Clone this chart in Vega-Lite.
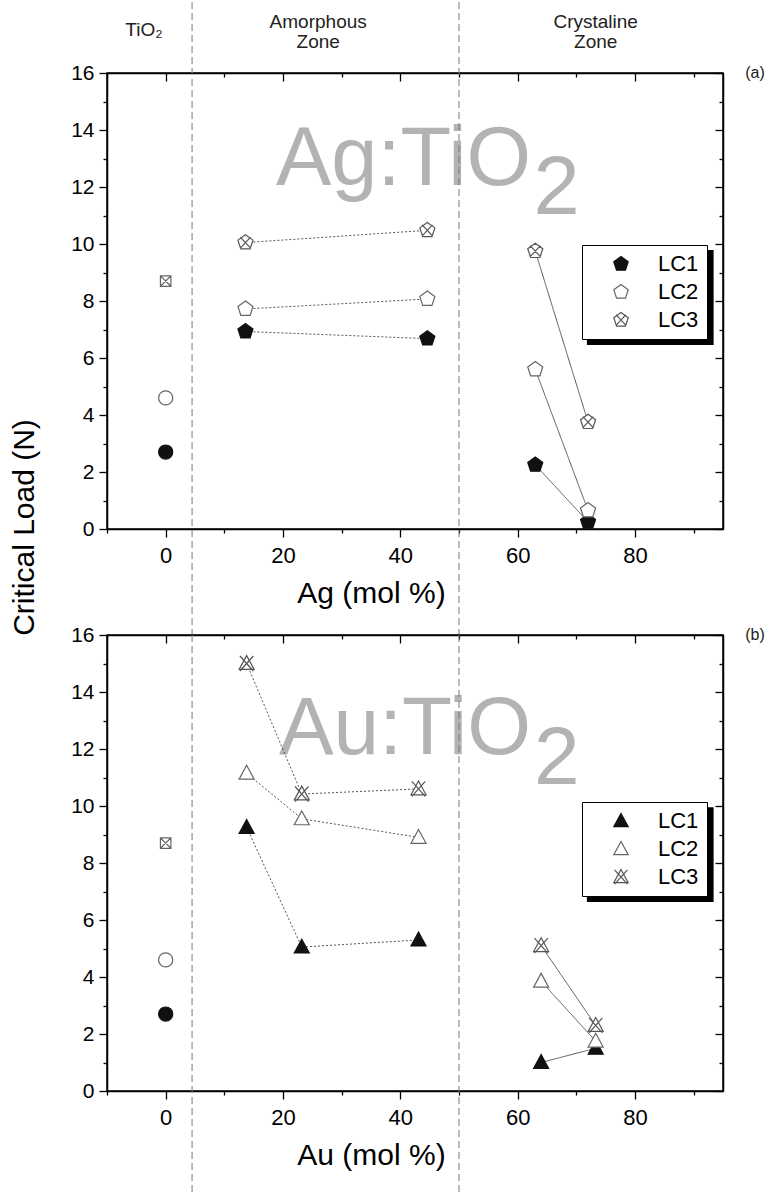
{
  "$schema": "https://vega.github.io/schema/vega-lite/v6.json",
  "background": "white",
  "padding": {"left": 8, "top": 0, "right": 0, "bottom": 0},
  "datasets": {
    "pts": [
      {"panel": "a", "x": 0, "lc": "LC1", "v": 2.7, "zone": "TiO2"},
      {"panel": "a", "x": 0, "lc": "LC2", "v": 4.6, "zone": "TiO2"},
      {"panel": "a", "x": 0, "lc": "LC3", "v": 8.7, "zone": "TiO2"},
      {"panel": "a", "x": 13.6, "lc": "LC1", "v": 6.93, "zone": "Amorphous"},
      {"panel": "a", "x": 13.6, "lc": "LC2", "v": 7.72, "zone": "Amorphous"},
      {"panel": "a", "x": 13.6, "lc": "LC3", "v": 10.05, "zone": "Amorphous"},
      {"panel": "a", "x": 44.6, "lc": "LC1", "v": 6.68, "zone": "Amorphous"},
      {"panel": "a", "x": 44.6, "lc": "LC2", "v": 8.07, "zone": "Amorphous"},
      {"panel": "a", "x": 44.6, "lc": "LC3", "v": 10.48, "zone": "Amorphous"},
      {"panel": "a", "x": 63, "lc": "LC1", "v": 2.25, "zone": "Crystaline"},
      {"panel": "a", "x": 63, "lc": "LC2", "v": 5.6, "zone": "Crystaline"},
      {"panel": "a", "x": 63, "lc": "LC3", "v": 9.75, "zone": "Crystaline"},
      {"panel": "a", "x": 72, "lc": "LC1", "v": 0.25, "zone": "Crystaline"},
      {"panel": "a", "x": 72, "lc": "LC2", "v": 0.65, "zone": "Crystaline"},
      {"panel": "a", "x": 72, "lc": "LC3", "v": 3.75, "zone": "Crystaline"},
      {"panel": "b", "x": 0, "lc": "LC1", "v": 2.7, "zone": "TiO2"},
      {"panel": "b", "x": 0, "lc": "LC2", "v": 4.6, "zone": "TiO2"},
      {"panel": "b", "x": 0, "lc": "LC3", "v": 8.7, "zone": "TiO2"},
      {"panel": "b", "x": 13.8, "lc": "LC1", "v": 9.25, "zone": "Amorphous"},
      {"panel": "b", "x": 13.8, "lc": "LC2", "v": 11.15, "zone": "Amorphous"},
      {"panel": "b", "x": 13.8, "lc": "LC3", "v": 15.0, "zone": "Amorphous"},
      {"panel": "b", "x": 23.2, "lc": "LC1", "v": 5.05, "zone": "Amorphous"},
      {"panel": "b", "x": 23.2, "lc": "LC2", "v": 9.55, "zone": "Amorphous"},
      {"panel": "b", "x": 23.2, "lc": "LC3", "v": 10.42, "zone": "Amorphous"},
      {"panel": "b", "x": 43.1, "lc": "LC1", "v": 5.3, "zone": "Amorphous"},
      {"panel": "b", "x": 43.1, "lc": "LC2", "v": 8.9, "zone": "Amorphous"},
      {"panel": "b", "x": 43.1, "lc": "LC3", "v": 10.6, "zone": "Amorphous"},
      {"panel": "b", "x": 64, "lc": "LC1", "v": 1.0, "zone": "Crystaline"},
      {"panel": "b", "x": 64, "lc": "LC2", "v": 3.85, "zone": "Crystaline"},
      {"panel": "b", "x": 64, "lc": "LC3", "v": 5.1, "zone": "Crystaline"},
      {"panel": "b", "x": 73.3, "lc": "LC1", "v": 1.5, "zone": "Crystaline"},
      {"panel": "b", "x": 73.3, "lc": "LC2", "v": 1.75, "zone": "Crystaline"},
      {"panel": "b", "x": 73.3, "lc": "LC3", "v": 2.3, "zone": "Crystaline"}
    ],
    "zones": [{"boundary": 4.5}, {"boundary": 50}],
    "one": [{}]
  },
  "config": {
    "view": {"stroke": "#000000", "strokeWidth": 1.5},
    "font": "Liberation Sans",
    "axis": {
      "domainColor": "#000000", "domainWidth": 1.5, "tickColor": "#000000", "tickWidth": 1.3,
      "grid": false, "labelColor": "#000000", "titleColor": "#000000",
      "labelFont": "Liberation Sans", "titleFont": "Liberation Sans", "titleFontWeight": "normal"
    }
  },
  "spacing": 106,
  "bounds": "flush",
  "resolve": {
    "scale": {"x": "independent", "y": "independent", "shape": "independent", "fill": "independent", "stroke": "independent", "strokeDash": "independent"},
    "legend": {"shape": "independent", "fill": "independent", "stroke": "independent"}
  },
  "vconcat": [
    {
      "width": 616, "height": 456,
      "resolve": {"axis": {"x": "independent", "y": "independent"}},
      "layer": [
        {
          "data": {"name": "one"},
          "mark": {"type": "text", "text": "Ag:TiO", "fontSize": 83, "color": "#b3b3b3", "align": "left", "baseline": "alphabetic"},
          "encoding": {
            "x": {"datum": 18.8, "type": "quantitative", "scale": {"domain": [-10, 95], "nice": false, "zero": false}, "axis": null},
            "y": {"datum": 12.07, "type": "quantitative", "scale": {"domain": [0, 16], "nice": false, "zero": false}, "axis": null}
          }
        },
        {
          "data": {"name": "one"},
          "mark": {"type": "text", "text": "2", "fontSize": 83, "color": "#b3b3b3", "align": "left", "baseline": "alphabetic"},
          "encoding": {
            "x": {"datum": 62.7, "type": "quantitative", "scale": {"domain": [-10, 95], "nice": false, "zero": false}, "axis": null},
            "y": {"datum": 11.05, "type": "quantitative", "scale": {"domain": [0, 16], "nice": false, "zero": false}, "axis": null}
          }
        },
        {
          "data": {"name": "zones"},
          "mark": {"type": "rule", "color": "#7a7a7a", "strokeWidth": 1, "strokeDash": [7, 4]},
          "encoding": {
            "x": {"field": "boundary", "type": "quantitative", "scale": {"domain": [-10, 95], "nice": false, "zero": false}, "axis": null},
            "y": {"datum": 18.49, "type": "quantitative", "scale": {"domain": [0, 16], "nice": false, "zero": false}, "axis": null},
            "y2": {"datum": -3.72}
          }
        },
        {
          "data": {"name": "one"},
          "mark": {"type": "rect", "color": "#000000"},
          "encoding": {
            "x": {"datum": 71.8, "type": "quantitative", "scale": {"domain": [-10, 95], "nice": false, "zero": false}, "axis": null},
            "x2": {"datum": 93.4},
            "y": {"datum": 9.79, "type": "quantitative", "scale": {"domain": [0, 16], "nice": false, "zero": false}, "axis": null},
            "y2": {"datum": 6.46}
          }
        },
        {
          "data": {"name": "pts"},
          "transform": [{"filter": "datum.panel === 'a' && datum.x > 0"}],
          "mark": {"type": "line", "color": "#555555", "strokeWidth": 1},
          "encoding": {
            "x": {"field": "x", "type": "quantitative", "scale": {"domain": [-10, 95], "nice": false, "zero": false}, "axis": null},
            "y": {"field": "v", "type": "quantitative", "scale": {"domain": [0, 16], "nice": false, "zero": false}, "axis": null},
            "detail": {"field": "lc"},
            "strokeDash": {"field": "zone", "type": "nominal", "scale": {"domain": ["Amorphous", "Crystaline"], "range": [[2, 2], [1, 0]]}, "legend": null}
          }
        },
        {
          "data": {"name": "pts"},
          "transform": [{"filter": "datum.panel === 'a' && datum.x === 0"}],
          "mark": {"type": "point", "filled": true, "strokeWidth": 1.2, "opacity": 1},
          "encoding": {
            "x": {"field": "x", "type": "quantitative", "scale": {"domain": [-10, 95], "nice": false, "zero": false},
              "axis": {"orient": "bottom", "offset": -456, "values": [-10, 0, 10, 20, 30, 40, 50, 60, 70, 80, 90], "labels": false, "title": null,
                "tickSize": {"condition": {"test": "datum.value % 20 === 0", "value": 8}, "value": 4}}},
            "y": {"field": "v", "type": "quantitative", "scale": {"domain": [0, 16], "nice": false, "zero": false},
              "axis": {"orient": "left", "offset": -616, "values": [0, 1, 2, 3, 4, 5, 6, 7, 8, 9, 10, 11, 12, 13, 14, 15, 16], "labels": false, "title": null,
                "tickSize": {"condition": {"test": "datum.value % 2 === 0", "value": 8}, "value": 4}}},
            "shape": {"condition": {"test": "datum.lc === 'LC3'", "value": "M-1,-1H1V1H-1ZM-1,-1L1,1M-1,1L1,-1"}, "value": "circle"},
            "size": {"condition": {"test": "datum.lc === 'LC3'", "value": 110}, "value": 200},
            "fill": {"condition": {"test": "datum.lc === 'LC1'", "value": "#111111"}, "value": "#ffffff"},
            "stroke": {"condition": {"test": "datum.lc === 'LC1'", "value": "#111111"}, "value": "#666666"}
          }
        },
        {
          "data": {"name": "pts"},
          "transform": [{"filter": "datum.panel === 'a' && datum.x > 0"}],
          "mark": {"type": "point", "filled": true, "size": 250, "strokeWidth": 1.2, "opacity": 1},
          "encoding": {
            "x": {"field": "x", "type": "quantitative", "scale": {"domain": [-10, 95], "nice": false, "zero": false},
              "axis": {"orient": "bottom", "values": [-10, 0, 10, 20, 30, 40, 50, 60, 70, 80, 90],
                "labelExpr": "datum.value % 20 === 0 ? datum.label : ''",
                "tickSize": {"condition": {"test": "datum.value % 20 === 0", "value": 8}, "value": 4},
                "labelFontSize": 22, "labelFont": "Liberation Sans Narrow, Liberation Sans", "labelPadding": 8,
                "title": "Ag (mol %)", "titleFontSize": 30, "titleX": 264, "titleY": 64, "titleBaseline": "middle", "titleAlign": "center"}},
            "y": {"field": "v", "type": "quantitative", "scale": {"domain": [0, 16], "nice": false, "zero": false},
              "axis": {"orient": "left", "values": [0, 1, 2, 3, 4, 5, 6, 7, 8, 9, 10, 11, 12, 13, 14, 15, 16],
                "labelExpr": "datum.value % 2 === 0 ? datum.label : ''",
                "tickSize": {"condition": {"test": "datum.value % 2 === 0", "value": 8}, "value": 4},
                "labelFontSize": 21, "labelPadding": 5,
                "title": "Critical Load (N)", "titleFontSize": 30, "titleAngle": -90, "titleX": -83, "titleY": 454, "titleBaseline": "middle", "titleAlign": "center"}},
            "shape": {"field": "lc", "type": "nominal",
              "scale": {"domain": ["LC1", "LC2", "LC3"], "range": [
                "M0,-1L0.951,-0.309L0.588,0.809L-0.588,0.809L-0.951,-0.309Z",
                "M0,-1L0.951,-0.309L0.588,0.809L-0.588,0.809L-0.951,-0.309Z",
                "M0,-1L0.951,-0.309L0.588,0.809L-0.588,0.809L-0.951,-0.309ZM-0.65,-0.7L0.65,0.7M-0.65,0.7L0.65,-0.7"]},
              "legend": {"orient": "none", "legendX": 475, "legendY": 172, "title": null, "fillColor": "#ffffff", "strokeColor": "#000000",
                "padding": 8, "labelFontSize": 22, "labelFont": "Liberation Sans", "labelColor": "#000000", "symbolSize": 230, "symbolOffset": 20,
                "labelOffset": 26, "rowPadding": 6, "symbolStrokeWidth": 1.2}},
            "fill": {"field": "lc", "type": "nominal", "scale": {"domain": ["LC1", "LC2", "LC3"], "range": ["#111111", "#ffffff", "#ffffff"]}},
            "stroke": {"field": "lc", "type": "nominal", "scale": {"domain": ["LC1", "LC2", "LC3"], "range": ["#111111", "#666666", "#555555"]}}
          }
        },
        {
          "data": {"name": "one"},
          "mark": {"type": "text", "text": "TiO\u2082", "fontSize": 19, "color": "#222222", "align": "center", "baseline": "middle"},
          "encoding": {
            "x": {"datum": -3.7, "type": "quantitative", "scale": {"domain": [-10, 95], "nice": false, "zero": false}, "axis": null},
            "y": {"datum": 17.5, "type": "quantitative", "scale": {"domain": [0, 16], "nice": false, "zero": false}, "axis": null}
          }
        },
        {
          "data": {"name": "one"},
          "mark": {"type": "text", "text": ["Amorphous", "Zone"], "fontSize": 19, "lineHeight": 20, "color": "#222222", "align": "center", "baseline": "top"},
          "encoding": {
            "x": {"datum": 26, "type": "quantitative", "scale": {"domain": [-10, 95], "nice": false, "zero": false}, "axis": null},
            "y": {"datum": 18.1, "type": "quantitative", "scale": {"domain": [0, 16], "nice": false, "zero": false}, "axis": null}
          }
        },
        {
          "data": {"name": "one"},
          "mark": {"type": "text", "text": ["Crystaline", "Zone"], "fontSize": 19, "lineHeight": 20, "color": "#222222", "align": "center", "baseline": "top"},
          "encoding": {
            "x": {"datum": 73.3, "type": "quantitative", "scale": {"domain": [-10, 95], "nice": false, "zero": false}, "axis": null},
            "y": {"datum": 18.1, "type": "quantitative", "scale": {"domain": [0, 16], "nice": false, "zero": false}, "axis": null}
          }
        },
        {
          "data": {"name": "one"},
          "mark": {"type": "text", "text": "(a)", "fontSize": 16, "color": "#222222", "align": "left", "baseline": "middle"},
          "encoding": {
            "x": {"datum": 98.8, "type": "quantitative", "scale": {"domain": [-10, 95], "nice": false, "zero": false}, "axis": null},
            "y": {"datum": 16, "type": "quantitative", "scale": {"domain": [0, 16], "nice": false, "zero": false}, "axis": null}
          }
        }
      ]
    },
    {
      "width": 616, "height": 456,
      "resolve": {"axis": {"x": "independent", "y": "independent"}},
      "layer": [
        {
          "data": {"name": "one"},
          "mark": {"type": "text", "text": "Au:TiO", "fontSize": 82, "color": "#b3b3b3", "align": "left", "baseline": "alphabetic"},
          "encoding": {
            "x": {"datum": 19.3, "type": "quantitative", "scale": {"domain": [-10, 95], "nice": false, "zero": false}, "axis": null},
            "y": {"datum": 11.82, "type": "quantitative", "scale": {"domain": [0, 16], "nice": false, "zero": false}, "axis": null}
          }
        },
        {
          "data": {"name": "one"},
          "mark": {"type": "text", "text": "2", "fontSize": 82, "color": "#b3b3b3", "align": "left", "baseline": "alphabetic"},
          "encoding": {
            "x": {"datum": 62.8, "type": "quantitative", "scale": {"domain": [-10, 95], "nice": false, "zero": false}, "axis": null},
            "y": {"datum": 10.77, "type": "quantitative", "scale": {"domain": [0, 16], "nice": false, "zero": false}, "axis": null}
          }
        },
        {
          "data": {"name": "zones"},
          "mark": {"type": "rule", "color": "#7a7a7a", "strokeWidth": 1, "strokeDash": [7, 4]},
          "encoding": {
            "x": {"field": "boundary", "type": "quantitative", "scale": {"domain": [-10, 95], "nice": false, "zero": false}, "axis": null},
            "y": {"datum": 16, "type": "quantitative", "scale": {"domain": [0, 16], "nice": false, "zero": false}, "axis": null},
            "y2": {"datum": -3.66}
          }
        },
        {
          "data": {"name": "one"},
          "mark": {"type": "rect", "color": "#000000"},
          "encoding": {
            "x": {"datum": 71.8, "type": "quantitative", "scale": {"domain": [-10, 95], "nice": false, "zero": false}, "axis": null},
            "x2": {"datum": 93.4},
            "y": {"datum": 9.96, "type": "quantitative", "scale": {"domain": [0, 16], "nice": false, "zero": false}, "axis": null},
            "y2": {"datum": 6.63}
          }
        },
        {
          "data": {"name": "pts"},
          "transform": [{"filter": "datum.panel === 'b' && datum.x > 0"}],
          "mark": {"type": "line", "color": "#555555", "strokeWidth": 1},
          "encoding": {
            "x": {"field": "x", "type": "quantitative", "scale": {"domain": [-10, 95], "nice": false, "zero": false}, "axis": null},
            "y": {"field": "v", "type": "quantitative", "scale": {"domain": [0, 16], "nice": false, "zero": false}, "axis": null},
            "detail": {"field": "lc"},
            "strokeDash": {"field": "zone", "type": "nominal", "scale": {"domain": ["Amorphous", "Crystaline"], "range": [[2, 2], [1, 0]]}, "legend": null}
          }
        },
        {
          "data": {"name": "pts"},
          "transform": [{"filter": "datum.panel === 'b' && datum.x === 0"}],
          "mark": {"type": "point", "filled": true, "strokeWidth": 1.2, "opacity": 1},
          "encoding": {
            "x": {"field": "x", "type": "quantitative", "scale": {"domain": [-10, 95], "nice": false, "zero": false},
              "axis": {"orient": "bottom", "offset": -456, "values": [-10, 0, 10, 20, 30, 40, 50, 60, 70, 80, 90], "labels": false, "title": null,
                "tickSize": {"condition": {"test": "datum.value % 20 === 0", "value": 8}, "value": 4}}},
            "y": {"field": "v", "type": "quantitative", "scale": {"domain": [0, 16], "nice": false, "zero": false},
              "axis": {"orient": "left", "offset": -616, "values": [0, 1, 2, 3, 4, 5, 6, 7, 8, 9, 10, 11, 12, 13, 14, 15, 16], "labels": false, "title": null,
                "tickSize": {"condition": {"test": "datum.value % 2 === 0", "value": 8}, "value": 4}}},
            "shape": {"condition": {"test": "datum.lc === 'LC3'", "value": "M-1,-1H1V1H-1ZM-1,-1L1,1M-1,1L1,-1"}, "value": "circle"},
            "size": {"condition": {"test": "datum.lc === 'LC3'", "value": 110}, "value": 200},
            "fill": {"condition": {"test": "datum.lc === 'LC1'", "value": "#111111"}, "value": "#ffffff"},
            "stroke": {"condition": {"test": "datum.lc === 'LC1'", "value": "#111111"}, "value": "#666666"}
          }
        },
        {
          "data": {"name": "pts"},
          "transform": [{"filter": "datum.panel === 'b' && datum.x > 0"}],
          "mark": {"type": "point", "filled": true, "size": 250, "strokeWidth": 1.2, "opacity": 1},
          "encoding": {
            "x": {"field": "x", "type": "quantitative", "scale": {"domain": [-10, 95], "nice": false, "zero": false},
              "axis": {"orient": "bottom", "values": [-10, 0, 10, 20, 30, 40, 50, 60, 70, 80, 90],
                "labelExpr": "datum.value % 20 === 0 ? datum.label : ''",
                "tickSize": {"condition": {"test": "datum.value % 20 === 0", "value": 8}, "value": 4},
                "labelFontSize": 22, "labelFont": "Liberation Sans Narrow, Liberation Sans", "labelPadding": 8,
                "title": "Au (mol %)", "titleFontSize": 30, "titleX": 264, "titleY": 64, "titleBaseline": "middle", "titleAlign": "center"}},
            "y": {"field": "v", "type": "quantitative", "scale": {"domain": [0, 16], "nice": false, "zero": false},
              "axis": {"orient": "left", "values": [0, 1, 2, 3, 4, 5, 6, 7, 8, 9, 10, 11, 12, 13, 14, 15, 16],
                "labelExpr": "datum.value % 2 === 0 ? datum.label : ''",
                "tickSize": {"condition": {"test": "datum.value % 2 === 0", "value": 8}, "value": 4},
                "labelFontSize": 21, "labelPadding": 5, "title": null}},
            "shape": {"field": "lc", "type": "nominal",
              "scale": {"domain": ["LC1", "LC2", "LC3"], "range": [
                "M0,-1L0.95,0.75L-0.95,0.75Z",
                "M0,-1L0.95,0.75L-0.95,0.75Z",
                "M0,-1L0.95,0.75L-0.95,0.75ZM-0.85,-0.95L0.85,0.95M-0.85,0.95L0.85,-0.95"]},
              "legend": {"orient": "none", "legendX": 475, "legendY": 167, "title": null, "fillColor": "#ffffff", "strokeColor": "#000000",
                "padding": 8, "labelFontSize": 22, "labelFont": "Liberation Sans", "labelColor": "#000000", "symbolSize": 230, "symbolOffset": 20,
                "labelOffset": 26, "rowPadding": 6, "symbolStrokeWidth": 1.2}},
            "fill": {"field": "lc", "type": "nominal", "scale": {"domain": ["LC1", "LC2", "LC3"], "range": ["#111111", "#ffffff", "#ffffff"]}},
            "stroke": {"field": "lc", "type": "nominal", "scale": {"domain": ["LC1", "LC2", "LC3"], "range": ["#111111", "#666666", "#555555"]}}
          }
        },
        {
          "data": {"name": "one"},
          "mark": {"type": "text", "text": "(b)", "fontSize": 16, "color": "#222222", "align": "left", "baseline": "middle"},
          "encoding": {
            "x": {"datum": 98.8, "type": "quantitative", "scale": {"domain": [-10, 95], "nice": false, "zero": false}, "axis": null},
            "y": {"datum": 16, "type": "quantitative", "scale": {"domain": [0, 16], "nice": false, "zero": false}, "axis": null}
          }
        }
      ]
    }
  ]
}
